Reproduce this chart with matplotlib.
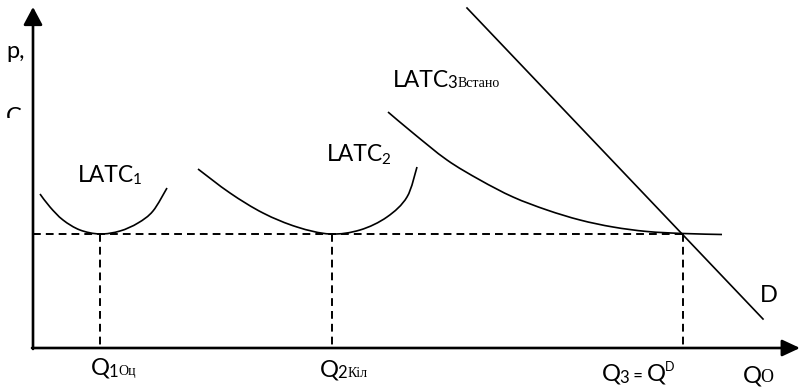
import matplotlib
matplotlib.use('Agg')
import matplotlib.pyplot as plt
from matplotlib.path import Path
from matplotlib.patches import PathPatch, Rectangle
import numpy as np

W, H = 801, 388

# ---- diagram data (pixel-like coordinates, y downward) ----
origin_x, origin_y = 33, 348
y_axis_top = 7
x_axis_end = 800

price_level = 234
q_points = [100, 332, 683]

latc1_x = [40, 50, 63, 80, 100, 120, 138, 153, 167]
latc1_y = [194, 207, 220, 230, 234, 231, 223, 211, 188]
latc2_x = [198, 230, 263, 297, 330, 360, 387, 407, 417]
latc2_y = [169, 193, 213, 227, 234, 230, 217, 197, 167]
latc3_x = [388, 413, 447, 480, 513, 547, 580, 613, 647, 683, 722]
latc3_y = [112, 133, 160, 180, 197, 210, 220, 227, 231.5, 233.5, 234.5]
demand_x = [467, 763]
demand_y = [8, 319]

SANS = ['Lato', 'DejaVu Sans']
SERIF = ['Liberation Serif', 'DejaVu Serif']

fig = plt.figure(figsize=(W / 100, H / 100), dpi=100)
ax = fig.add_axes([0, 0, 1, 1])
ax.set_xlim(0, W)
ax.set_ylim(H, 0)
ax.axis('off')


def smooth_path(xs, ys):
    pts = np.column_stack([xs, ys]).astype(float)
    n = len(pts)
    verts = [pts[0]]
    codes = [Path.MOVETO]
    for i in range(n - 1):
        p0 = pts[i - 1] if i > 0 else pts[i]
        p1 = pts[i]
        p2 = pts[i + 1]
        p3 = pts[i + 2] if i + 2 < n else pts[i + 1]
        c1 = p1 + (p2 - p0) / 6
        c2 = p2 - (p3 - p1) / 6
        verts += [c1, c2, p2]
        codes += [Path.CURVE4] * 3
    return Path(verts, codes)


curve_lw = 1.2
for xs, ys in [(latc1_x, latc1_y), (latc2_x, latc2_y), (latc3_x, latc3_y)]:
    ax.add_patch(PathPatch(smooth_path(xs, ys), fill=False, lw=curve_lw,
                           color='black', capstyle='butt'))

ax.plot(demand_x, demand_y, color='black', lw=curve_lw)

dash = (0, (4.0, 2.6))
ax.plot([origin_x, q_points[-1]], [price_level, price_level], color='black',
        lw=1.4, linestyle=dash)
for q in q_points:
    ax.plot([q, q], [price_level, origin_y], color='black', lw=1.4, linestyle=dash)

# axes with arrows
ax.annotate('', xy=(origin_x, y_axis_top), xytext=(origin_x, origin_y + 1),
            arrowprops=dict(arrowstyle='-|>,head_length=0.6,head_width=0.32',
                            mutation_scale=18, lw=1.9, color='black',
                            shrinkA=0, shrinkB=0))
ax.annotate('', xy=(x_axis_end, origin_y), xytext=(origin_x - 1, origin_y),
            arrowprops=dict(arrowstyle='-|>,head_length=0.6,head_width=0.28',
                            mutation_scale=18, lw=1.9, color='black',
                            shrinkA=0, shrinkB=0))

renderer = fig.canvas.get_renderer()


def runs(x, y, parts):
    for s, size, fam, dy in parts:
        t = ax.text(x, y + dy, s, fontsize=size, family=fam, va='baseline',
                    ha='left', color='black')
        bb = t.get_window_extent(renderer=renderer)
        x += bb.width - (1.5 if size >= 16 else 0)


runs(6, 58, [('p,', 17, SANS, 0)])
runs(6, 124, [('C', 17, SANS, 0)])
ax.add_patch(Rectangle((0, 118), 28, 20, facecolor='white', edgecolor='none', zorder=5))

runs(78, 182, [('LATC', 16.5, SANS, 0), ('1', 11, SANS, 2)])
runs(327, 161, [('LATC', 16.5, SANS, 0), ('2', 11, SANS, 3)])
runs(393, 87, [('LATC', 16.5, SANS, 0), ('3', 12, SANS, 1), ('Встано', 10, SERIF, 0)])
runs(760, 302, [('D', 17, SANS, 0)])
runs(91, 375, [('Q', 17, SANS, 0), ('1', 12, SANS, 2), ('Оц', 10, SERIF, 0)])
runs(320, 377, [('Q', 17, SANS, 0), ('2', 12, SANS, 1), ('Кіл', 10, SERIF, 0)])
runs(602, 381, [('Q', 17, SANS, 0), ('3', 12, SANS, 2), (' = ', 12, SANS, 0),
                ('Q', 17, SANS, 0), ('D', 9, SANS, -10)])
runs(743, 382, [('Q', 17, SANS, 0), ('O', 13, SERIF, 0)])

fig.savefig('out.png', dpi=100)
